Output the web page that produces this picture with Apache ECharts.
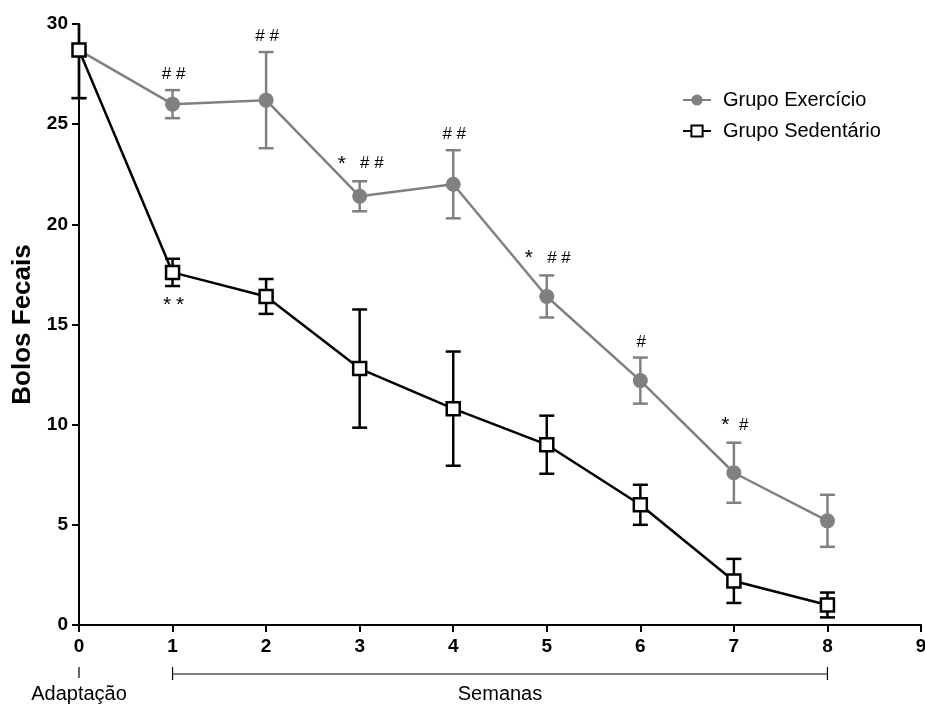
<!DOCTYPE html>
<html>
<head>
<meta charset="utf-8">
<script src="https://cdn.jsdelivr.net/npm/echarts@6/dist/echarts.min.js"></script>
<style>
  html, body { margin: 0; padding: 0; background: #fff; }
  #chart { width: 925px; height: 704px; }
</style>
</head>
<body>
<div id="chart"></div>
<script>
// Time points: 0 = adaptation, 1..8 = weeks
const timePoints = [0, 1, 2, 3, 4, 5, 6, 7, 8];

// Fecal boli, mean and SEM per group
const exerciseMean = [28.7, 26.0, 26.2, 21.4, 22.0, 16.4, 12.2, 7.6, 5.2];
const exerciseErr  = [2.4, 0.7, 2.4, 0.75, 1.7, 1.05, 1.15, 1.5, 1.3];
const sedentaryMean = [28.7, 17.6, 16.4, 12.8, 10.8, 9.0, 6.0, 2.2, 1.0];
const sedentaryErr  = [2.4, 0.68, 0.87, 2.95, 2.85, 1.45, 1.0, 1.1, 0.62];

// Significance marks (above exercise points, below sedentary points)
const exerciseNotes  = ['', '# #', '# #', '*   # #', '# #', '*   # #', '#', '*  #', ''];
const sedentaryNotes = ['', '* *', '', '', '', '', '', '', ''];

// Period brackets under the x axis
const periodLabels = ['Adaptação', 'Semanas'];
const periodStart = [0, 1];
const periodEnd = [0, 8];

const seriesNames = ['Grupo Exercício', 'Grupo Sedentário'];
const GRAY = '#808080';
const BLACK = '#000000';
const FONT = 'Liberation Sans, Arial, sans-serif';
const Y_MAX = 30;

function pairs(xs, ys) { return xs.map((x, i) => [x, ys[i]]); }
function triples(xs, ys, es) { return xs.map((x, i) => [x, ys[i], es[i]]); }
function noteRows(xs, ys, es, notes) { return xs.map((x, i) => [x, ys[i], es[i], notes[i]]); }

function errorBarRenderer(color) {
  return function (params, api) {
    const x = api.value(0), v = api.value(1), e = api.value(2);
    const hiVal = Math.min(v + e, Y_MAX);
    const hi = api.coord([x, hiVal]);
    const lo = api.coord([x, v - e]);
    const half = 7.5;
    const style = { stroke: color, lineWidth: 2.5, fill: null };
    const children = [
      { type: 'line', shape: { x1: hi[0], y1: hi[1], x2: lo[0], y2: lo[1] }, style: style },
      { type: 'line', shape: { x1: lo[0] - half, y1: lo[1], x2: lo[0] + half, y2: lo[1] }, style: style }
    ];
    if (v + e <= Y_MAX) {
      children.push({ type: 'line', shape: { x1: hi[0] - half, y1: hi[1], x2: hi[0] + half, y2: hi[1] }, style: style });
    }
    return { type: 'group', children: children };
  };
}

// Asterisks are drawn a little larger than the hash marks
function toRich(text) {
  return text.replace(/\*/g, '{s|*}');
}

function noteRenderer(above) {
  return function (params, api) {
    const x = api.value(0), v = api.value(1), e = api.value(2);
    const text = api.value(3);
    if (!text) return null;
    const anchor = api.coord([x, above ? v + e : v - e]);
    return {
      type: 'text',
      style: {
        text: toRich(text),
        x: anchor[0] + 1,
        y: above ? anchor[1] - 7 : anchor[1] + 9,
        textAlign: 'center',
        textVerticalAlign: above ? 'bottom' : 'top',
        font: '17px ' + FONT,
        fill: '#000',
        rich: {
          s: { fontSize: 21, fontFamily: FONT, verticalAlign: 'top', fill: '#000' }
        }
      }
    };
  };
}

const chart = echarts.init(document.getElementById('chart'), null, { renderer: 'canvas' });

const option = {
  animation: false,
  backgroundColor: '#fff',
  grid: { left: 79, right: 4, top: 24, bottom: 79, containLabel: false, outerBoundsMode: 'none' },
  legend: {
    orient: 'vertical',
    left: 677,
    top: 85,
    itemWidth: 28,
    itemHeight: 14,
    itemGap: 11,
    textStyle: { fontFamily: FONT, fontSize: 20, color: '#000', lineHeight: 20, padding: [0, 0, 0, 7] },
    data: seriesNames
  },
  xAxis: {
    type: 'value',
    min: 0, max: 9, interval: 1,
    splitLine: { show: false },
    axisLine: { show: true, onZero: false, lineStyle: { color: BLACK, width: 2 } },
    axisTick: { show: true, length: 7, lineStyle: { color: BLACK, width: 2 } },
    axisLabel: { margin: 12, color: BLACK, fontFamily: FONT, fontSize: 19, fontWeight: 'bold', showMaxLabel: true }
  },
  yAxis: {
    type: 'value',
    min: 0, max: Y_MAX, interval: 5,
    name: 'Bolos Fecais',
    nameLocation: 'middle',
    nameGap: 42,
    nameTextStyle: { fontFamily: FONT, fontSize: 26, fontWeight: 'bold', color: BLACK },
    splitLine: { show: false },
    axisLine: { show: true, lineStyle: { color: BLACK, width: 2 } },
    axisTick: { show: true, length: 7, lineStyle: { color: BLACK, width: 2 } },
    axisLabel: { margin: 11, color: BLACK, fontFamily: FONT, fontSize: 19, fontWeight: 'bold' }
  },
  series: [
    {
      type: 'custom', name: 'exerciseErr', z: 2, silent: true,
      renderItem: errorBarRenderer(GRAY),
      data: triples(timePoints, exerciseMean, exerciseErr)
    },
    {
      type: 'line', name: seriesNames[0], z: 3,
      data: pairs(timePoints, exerciseMean),
      symbol: 'circle', symbolSize: 15,
      itemStyle: { color: GRAY },
      lineStyle: { color: GRAY, width: 2.5 }
    },
    {
      type: 'custom', name: 'sedentaryErr', z: 4, silent: true,
      renderItem: errorBarRenderer(BLACK),
      data: triples(timePoints, sedentaryMean, sedentaryErr)
    },
    {
      type: 'line', name: seriesNames[1], z: 5,
      data: pairs(timePoints, sedentaryMean),
      symbol: 'rect', symbolSize: 13,
      itemStyle: { color: '#ffffff', borderColor: BLACK, borderWidth: 2.5 },
      lineStyle: { color: BLACK, width: 2.5 }
    },
    {
      type: 'custom', name: 'exerciseNotes', z: 6, silent: true,
      renderItem: noteRenderer(true),
      data: noteRows(timePoints, exerciseMean, exerciseErr, exerciseNotes)
    },
    {
      type: 'custom', name: 'sedentaryNotes', z: 6, silent: true,
      renderItem: noteRenderer(false),
      data: noteRows(timePoints, sedentaryMean, sedentaryErr, sedentaryNotes)
    }
  ]
};

chart.setOption(option);

// Period brackets and their captions below the x axis
function drawPeriods() {
  const elements = [];
  const lineY = 674, tickTop = 667, tickBottom = 680, labelY = 694;
  periodLabels.forEach((label, i) => {
    const xa = chart.convertToPixel({ xAxisIndex: 0 }, periodStart[i]);
    const xb = chart.convertToPixel({ xAxisIndex: 0 }, periodEnd[i]);
    const st = { stroke: '#000', lineWidth: 1.2 };
    if (periodStart[i] === periodEnd[i]) {
      elements.push({ type: 'line', shape: { x1: xa, y1: tickTop, x2: xa, y2: tickBottom - 2 }, style: st });
    } else {
      elements.push({ type: 'line', shape: { x1: xa, y1: lineY, x2: xb, y2: lineY }, style: st });
      elements.push({ type: 'line', shape: { x1: xa, y1: tickTop, x2: xa, y2: tickBottom }, style: st });
      elements.push({ type: 'line', shape: { x1: xb, y1: tickTop, x2: xb, y2: tickBottom }, style: st });
    }
    elements.push({
      type: 'text',
      style: {
        text: label, x: (xa + xb) / 2, y: labelY,
        textAlign: 'center', textVerticalAlign: 'middle',
        font: '20px ' + FONT, fill: '#000'
      }
    });
  });
  chart.setOption({ graphic: elements });
}
drawPeriods();
</script>
</body>
</html>
